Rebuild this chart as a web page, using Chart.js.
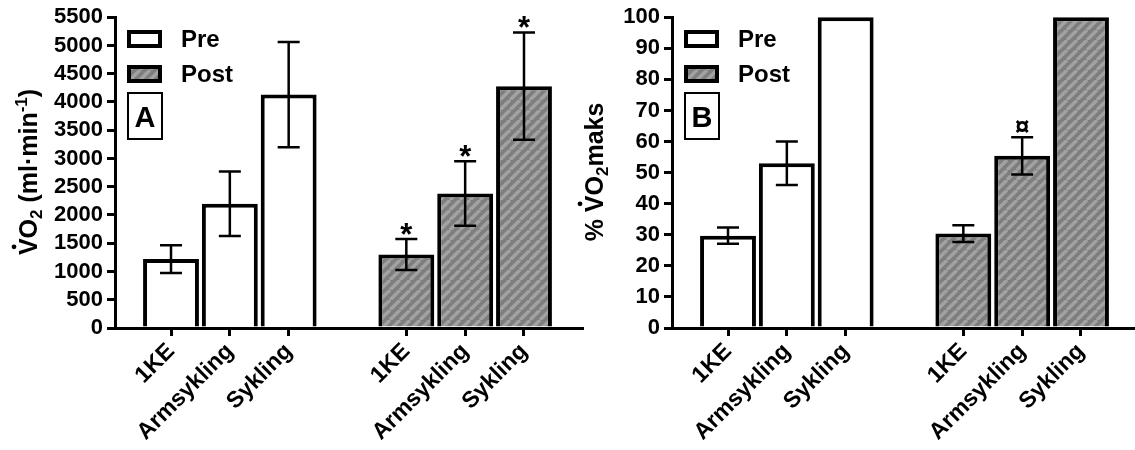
<!DOCTYPE html>
<html>
<head>
<meta charset="utf-8">
<script src="https://cdn.jsdelivr.net/npm/chart.js@4.4.1/dist/chart.umd.min.js"></script>
<style>
  body { margin: 0; background: #fff; width: 1135px; height: 450px; position: relative; overflow: hidden; }
  canvas { position: absolute; top: 0; }
</style>
</head>
<body>
<canvas id="chartA" width="590" height="450" style="left:0"></canvas>
<canvas id="chartB" width="578" height="450" style="left:557px"></canvas>
<script>
// Values (mean ± SD)
const categories = ['1KE', 'Armsykling', 'Sykling'];
const preX = [1, 2, 3];
const postX = [5, 6, 7];

const vo2Pre = [1220, 2200, 4130];
const vo2PreSd = [245, 570, 930];
const vo2Post = [1300, 2380, 4280];
const vo2PostSd = [275, 570, 950];
const vo2PostMarks = ['*', '*', '*'];
const vo2Ticks = [0, 500, 1000, 1500, 2000, 2500, 3000, 3500, 4000, 4500, 5000, 5500];

const pctPre = [29.7, 53, 100];
const pctPreSd = [2.6, 7, 0];
const pctPost = [30.4, 55.4, 100];
const pctPostSd = [2.7, 6, 0];
const pctPostMarks = ['', '¤', ''];
const pctTicks = [0, 10, 20, 30, 40, 50, 60, 70, 80, 90, 100];

const FONT = '"Liberation Sans", Arial, sans-serif';

// grey fill with light diagonal stripes
function makeHatch() {
  const p = 10;
  const c = document.createElement('canvas');
  c.width = p; c.height = p;
  const g = c.getContext('2d');
  g.fillStyle = '#7e7e7e';
  g.fillRect(0, 0, p, p);
  g.strokeStyle = '#a2a2a2';
  g.lineWidth = 3.5;
  g.beginPath();
  for (const k of [-1, 0, 1]) {
    g.moveTo(k * p, p);
    g.lineTo(k * p + p, 0);
  }
  g.stroke();
  return g.createPattern(c, 'repeat');
}
const hatch = makeHatch();

const tickLabel = {};
preX.forEach((x, i) => tickLabel[x] = categories[i]);
postX.forEach((x, i) => tickLabel[x] = categories[i]);
const xTicks = preX.concat(postX);

// error bars and significance marks
const errorBars = {
  id: 'errorBars',
  afterDatasetsDraw(chart) {
    const ctx = chart.ctx;
    const y = chart.scales.y;
    ctx.save();
    chart.data.datasets.forEach((ds, di) => {
      const meta = chart.getDatasetMeta(di);
      meta.data.forEach((bar, i) => {
        const sd = ds.sd[i];
        const v = ds.data[i].y;
        const top = y.getPixelForValue(v + sd);
        if (sd > 0) {
          const bot = y.getPixelForValue(v - sd);
          ctx.strokeStyle = '#000';
          ctx.lineWidth = 2.5;
          ctx.beginPath();
          ctx.moveTo(bar.x, top); ctx.lineTo(bar.x, bot);
          ctx.moveTo(bar.x - 11, top); ctx.lineTo(bar.x + 11, top);
          ctx.moveTo(bar.x - 11, bot); ctx.lineTo(bar.x + 11, bot);
          ctx.stroke();
        }
        const mark = ds.marks ? ds.marks[i] : '';
        if (mark) {
          ctx.fillStyle = '#000';
          ctx.textAlign = 'center';
          ctx.textBaseline = 'alphabetic';
          if (mark === '*') {
            ctx.font = 'bold 31px ' + FONT;
            ctx.fillText(mark, bar.x, top + 6);
          } else {
            ctx.font = 'bold 26px ' + FONT;
            ctx.fillText(mark, bar.x, top - 2);
          }
        }
      });
    });
    ctx.restore();
  }
};

// legend, panel letter and y title drawn in GraphPad style
const decorations = {
  id: 'decorations',
  afterDraw(chart, args, opts) {
    const ctx = chart.ctx;
    ctx.save();
    const bx = 127, bw = 35;
    chart.data.datasets.forEach((ds, i) => {
      const by = i === 0 ? 30 : 65;
      ctx.fillStyle = ds.backgroundColor;
      ctx.fillRect(bx, by, bw, 18);
      ctx.strokeStyle = '#000';
      ctx.lineWidth = 4;
      ctx.strokeRect(bx + 2, by + 2, bw - 4, 14);
      ctx.fillStyle = '#000';
      ctx.font = 'bold 24px ' + FONT;
      ctx.textAlign = 'left';
      ctx.textBaseline = 'middle';
      ctx.fillText(ds.label, 181, by + 10);
    });
    // panel letter
    ctx.lineWidth = 2;
    ctx.strokeRect(128, 93, 34, 46);
    ctx.font = 'bold 29px ' + FONT;
    ctx.textAlign = 'center';
    ctx.textBaseline = 'alphabetic';
    ctx.fillText(opts.letter, 145, 127);

    // rotated y title with sub/superscripts and the dot over V
    const parts = opts.title;
    const big = 'bold 25px ' + FONT, small = 'bold 17px ' + FONT;
    let total = 0;
    parts.forEach(p => { ctx.font = p.sub || p.sup ? small : big; p.w = ctx.measureText(p.t).width; total += p.w; });
    ctx.translate(opts.titleX, 172);
    ctx.rotate(-Math.PI / 2);
    let x = -total / 2;
    ctx.textAlign = 'left';
    parts.forEach(p => {
      ctx.font = p.sub || p.sup ? small : big;
      const dy = p.sub ? 5 : p.sup ? -10 : 0;
      ctx.fillText(p.t, x, dy);
      if (p.dot) {
        ctx.beginPath();
        ctx.arc(x + p.w / 2, -23, 2.4, 0, Math.PI * 2);
        ctx.fill();
      }
      x += p.w;
    });
    ctx.restore();
  }
};

function makePanel(id, cfg) {
  const tickFont = { family: FONT, size: 22, weight: 'bold' };
  return new Chart(document.getElementById(id), {
    type: 'bar',
    data: {
      datasets: [
        {
          label: 'Pre',
          data: preX.map((x, i) => ({ x, y: cfg.pre[i] })),
          sd: cfg.preSd,
          backgroundColor: '#ffffff',
          borderColor: '#000',
          borderWidth: 4,
          clip: false
        },
        {
          label: 'Post',
          data: postX.map((x, i) => ({ x, y: cfg.post[i] })),
          sd: cfg.postSd,
          marks: cfg.marks,
          backgroundColor: hatch,
          borderColor: '#000',
          borderWidth: 4,
          clip: false
        }
      ]
    },
    options: {
      responsive: false,
      animation: false,
      grouped: false,
      barPercentage: 0.95,
      categoryPercentage: 1,
      layout: { padding: { top: 16, right: cfg.padRight, bottom: 0, left: 0 } },
      plugins: {
        legend: { display: false },
        tooltip: { enabled: false },
        decorations: { letter: cfg.letter, title: cfg.title, titleX: cfg.titleX }
      },
      scales: {
        x: {
          type: 'linear',
          offset: false,
          min: 0.048,
          max: cfg.xMax,
          afterBuildTicks: s => { s.ticks = xTicks.map(v => ({ value: v })); },
          afterFit: s => { s.height = 122; s.paddingLeft = 0; s.paddingRight = 0; },
          ticks: {
            autoSkip: false,
            minRotation: 45,
            maxRotation: 45,
            padding: 2,
            color: '#000',
            font: { family: FONT, size: 23, weight: 'bold' },
            callback: v => tickLabel[v] || ''
          },
          grid: { offset: false, drawOnChartArea: false, drawTicks: true, tickLength: 8, color: '#000', lineWidth: 3 },
          border: { display: true, color: '#000', width: 3 }
        },
        y: {
          min: 0,
          max: cfg.yMax,
          afterBuildTicks: s => { s.ticks = cfg.yTicks.map(v => ({ value: v })); },
          afterFit: s => { s.width = 115; },
          ticks: { autoSkip: false, color: '#000', font: tickFont, padding: 4, callback: v => String(v) },
          grid: { drawOnChartArea: false, drawTicks: true, tickLength: 8, color: '#000', lineWidth: 3 },
          border: { display: true, color: '#000', width: 3 }
        }
      }
    },
    plugins: [errorBars, decorations]
  });
}

makePanel('chartA', {
  pre: vo2Pre, preSd: vo2PreSd, post: vo2Post, postSd: vo2PostSd, marks: vo2PostMarks,
  yMax: 5500, yTicks: vo2Ticks, xMax: 7.986, padRight: 8, letter: 'A', titleX: 37,
  title: [{ t: 'V', dot: true }, { t: 'O' }, { t: '2', sub: true }, { t: ' (ml·min' }, { t: '-1', sup: true }, { t: ')' }]
});

makePanel('chartB', {
  pre: pctPre, preSd: pctPreSd, post: pctPost, postSd: pctPostSd, marks: pctPostMarks,
  yMax: 100, yTicks: pctTicks, xMax: 7.918, padRight: 0, letter: 'B', titleX: 46,
  title: [{ t: '% ' }, { t: 'V', dot: true }, { t: 'O' }, { t: '2', sub: true }, { t: 'maks' }]
});
</script>
</body>
</html>
